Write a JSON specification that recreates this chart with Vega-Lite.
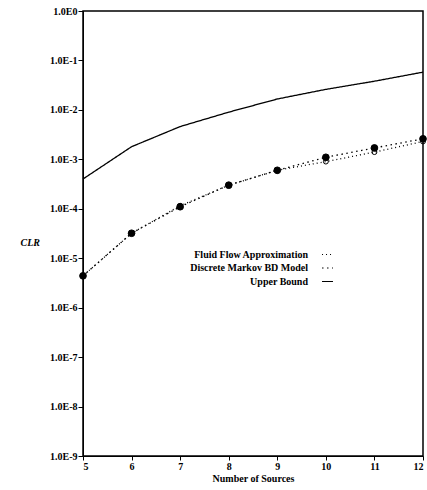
{
  "$schema": "https://vega.github.io/schema/vega-lite/v6.json",
  "width": 340,
  "height": 445,
  "autosize": {"type": "none"},
  "padding": {"left": 83, "top": 11, "right": 4, "bottom": 34},
  "background": "white",
  "config": {
    "view": {"stroke": "black", "strokeWidth": 1.5},
    "font": "Liberation Serif",
    "axis": {"labelFont": "Liberation Serif", "titleFont": "Liberation Serif", "labelFontWeight": "bold", "titleFontWeight": "bold", "labelColor": "black", "titleColor": "black", "domainColor": "black", "tickColor": "black", "grid": false, "labelFontSize": 10, "titleFontSize": 10}
  },
  "data": {"values": [
    {"x": 5, "y": 4.4e-6, "series": "Fluid Flow Approximation"},
    {"x": 6, "y": 3.2e-5, "series": "Fluid Flow Approximation"},
    {"x": 7, "y": 1.15e-4, "series": "Fluid Flow Approximation"},
    {"x": 8, "y": 3.0e-4, "series": "Fluid Flow Approximation"},
    {"x": 9, "y": 6.0e-4, "series": "Fluid Flow Approximation"},
    {"x": 10, "y": 9.0e-4, "series": "Fluid Flow Approximation"},
    {"x": 11, "y": 1.4e-3, "series": "Fluid Flow Approximation"},
    {"x": 12, "y": 2.3e-3, "series": "Fluid Flow Approximation"},
    {"x": 5, "y": 4.4e-6, "series": "Discrete Markov BD Model"},
    {"x": 6, "y": 3.2e-5, "series": "Discrete Markov BD Model"},
    {"x": 7, "y": 1.1e-4, "series": "Discrete Markov BD Model"},
    {"x": 8, "y": 3.0e-4, "series": "Discrete Markov BD Model"},
    {"x": 9, "y": 6.0e-4, "series": "Discrete Markov BD Model"},
    {"x": 10, "y": 1.1e-3, "series": "Discrete Markov BD Model"},
    {"x": 11, "y": 1.7e-3, "series": "Discrete Markov BD Model"},
    {"x": 12, "y": 2.6e-3, "series": "Discrete Markov BD Model"},
    {"x": 5, "y": 4.0e-4, "series": "Upper Bound"},
    {"x": 6, "y": 1.8e-3, "series": "Upper Bound"},
    {"x": 7, "y": 4.6e-3, "series": "Upper Bound"},
    {"x": 8, "y": 9.0e-3, "series": "Upper Bound"},
    {"x": 9, "y": 1.66e-2, "series": "Upper Bound"},
    {"x": 10, "y": 2.6e-2, "series": "Upper Bound"},
    {"x": 11, "y": 3.8e-2, "series": "Upper Bound"},
    {"x": 12, "y": 5.8e-2, "series": "Upper Bound"}
  ]},
  "layer": [
    {
      "mark": {"type": "line", "color": "black", "strokeWidth": 1.3},
      "encoding": {
        "x": {"field": "x", "type": "quantitative", "scale": {"domain": [5, 12], "nice": false, "zero": false},
              "axis": {"title": "Number of Sources", "values": [5, 6, 7, 8, 9, 10, 11, 12], "tickSize": 4, "labelPadding": 1, "titleFontSize": 10, "titlePadding": 2}},
        "y": {"field": "y", "type": "quantitative", "scale": {"type": "log", "domain": [1e-9, 1], "nice": false},
              "axis": {"title": "CLR", "titleAngle": 0, "titleFontStyle": "italic", "titleX": -63, "titleY": 236, "titleAlign": "left",
                       "values": [1e-9, 1e-8, 1e-7, 1e-6, 1e-5, 1e-4, 1e-3, 1e-2, 1e-1, 1],
                       "labelExpr": "'1.0E' + round(log(datum.value)/LN10)", "tickSize": 5, "labelPadding": 1, "labelFontSize": 10}},
        "strokeDash": {"field": "series", "type": "nominal",
                       "scale": {"domain": ["Fluid Flow Approximation", "Discrete Markov BD Model", "Upper Bound"], "range": [[1, 3], [1.5, 3.5], [1, 0]]},
                       "legend": {"title": null, "orient": "none", "legendX": 238, "legendY": 237, "labelAlign": "right", "labelOffset": -26,
                                  "labelFont": "Liberation Serif", "labelFontWeight": "bold", "labelFontSize": 10, "labelColor": "black",
                                  "symbolType": "stroke", "symbolSize": 120, "symbolStrokeColor": "black", "symbolStrokeWidth": 1.2, "rowPadding": 1.5, "labelLimit": 300}}
      }
    },
    {
      "transform": [{"filter": "datum.series != 'Upper Bound'"}],
      "mark": {"type": "point", "stroke": "black", "strokeWidth": 1, "opacity": 1, "size": 30},
      "encoding": {
        "x": {"field": "x", "type": "quantitative"},
        "y": {"field": "y", "type": "quantitative"},
        "fill": {"field": "series", "type": "nominal",
                 "scale": {"domain": ["Fluid Flow Approximation", "Discrete Markov BD Model"], "range": ["transparent", "black"]}, "legend": null},
        "size": {"field": "series", "type": "nominal",
                 "scale": {"domain": ["Fluid Flow Approximation", "Discrete Markov BD Model"], "range": [24, 45]}, "legend": null}
      }
    }
  ]
}
